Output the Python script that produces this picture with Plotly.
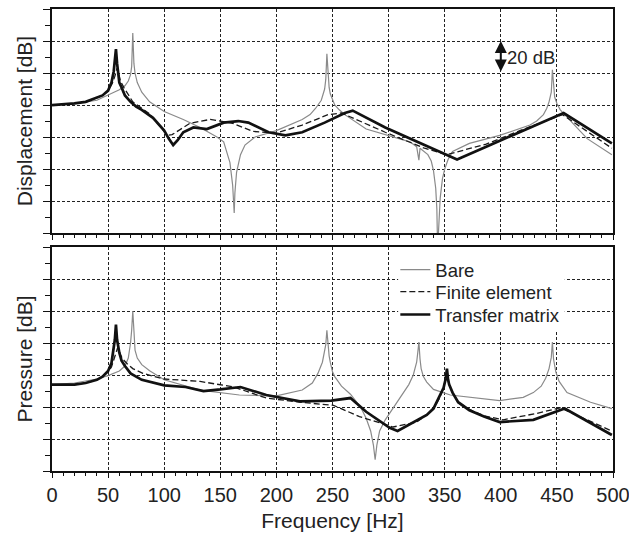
import plotly.graph_objects as go

# ---------------- data ----------------
# Displacement panel [dB, arbitrary offset; 20 dB per grid]
f_disp_bare = [0, 20, 40, 50, 60, 65, 68, 70, 71, 72, 73, 74, 76, 80, 87, 100, 117, 132, 147, 153,
               158.6, 161, 162.4, 163, 164.5, 168, 172, 181, 200, 223, 230, 235, 240, 243, 244, 245,
               246, 247, 248, 250, 252, 256, 261, 280, 300, 319, 325, 327, 328, 335, 338, 340, 342,
               343, 343.7, 345, 346, 348, 350, 353, 357, 372, 399, 426, 432, 438, 441, 443, 445,
               446, 447, 448, 450, 453, 477, 499]
disp_bare = [80, 80.8, 83, 86, 89.5, 92, 95, 99, 104, 125, 106, 100, 94, 88, 82, 76, 71, 66, 60, 57,
             44, 30, 12.5, 25, 38, 49, 55, 60, 64, 71, 74, 78, 83, 90, 96, 112,
             97, 91, 87, 83, 80, 77, 74, 65, 61, 57, 54, 45.6, 53, 49, 45, 39, 28,
             15, -10, 8, 22, 34, 40, 46, 51, 56, 61, 67.5, 70, 74, 78, 82, 88,
             102, 90, 85, 81, 77, 59, 49]

f_disp_fe = [0, 20, 30, 40, 45, 50, 54, 56, 58, 59, 61, 64, 72, 87, 100, 103, 107, 117, 123, 141,
             161, 179, 200, 223, 246, 258, 297, 332, 352, 387, 417, 455, 499]
disp_fe = [80, 81, 82, 84.4, 86, 89, 94, 98, 103, 101, 95, 91, 82, 74.5, 64, 61, 61.5, 66, 68.6, 71,
           68.6, 63.5, 62.5, 67.5, 74, 75, 63, 53, 49, 55.6, 64, 74, 53]

f_disp_tm = [0, 20, 30, 40, 45, 50, 53, 55, 56, 57, 58, 59, 60, 62, 65, 70, 75, 80, 90, 100, 104,
             108, 112, 117, 126, 138, 153, 166, 175, 193, 208, 223, 243, 261, 268, 297, 332, 361,
             387, 417, 447, 456, 499]
disp_tm = [80, 81, 82, 84.4, 86, 89, 94, 101, 107, 115, 106, 100, 94, 91, 86, 82, 79, 77, 72, 64, 59,
           55, 58, 63, 66, 65, 69, 70, 69, 63, 61, 63, 69, 75, 76.5, 66, 55, 46,
           54, 63, 72, 75, 56]

# Pressure panel [dB, arbitrary offset; 20 dB per grid]
f_pres_bare = [0, 20, 40, 50, 60, 65, 68, 70, 71, 72, 73, 74, 76, 80, 87, 100, 132, 167, 200, 223,
               232, 237, 241, 243, 244, 245, 246, 247, 248, 250, 252, 258, 266, 275, 280, 284, 286.5,
               288, 289.5, 292, 297, 310, 318, 322, 325, 326, 327, 328, 329, 331, 334, 340, 355,
               399, 420, 429, 436, 440, 443, 445, 446, 447, 449, 452, 459, 480, 499]
pres_bare = [54, 55, 57.5, 59.6, 62.5, 65.6, 70.6, 80, 88, 100, 88, 75.6, 70.6, 66.5, 62.7, 57, 50.6,
             47.5, 47, 50.6, 55, 61, 68, 74, 79, 88, 78, 72, 68, 62, 59, 53, 48, 40, 33, 25, 16,
             7, 16, 25, 32, 45.6, 54, 60, 68, 74, 80.6, 70, 64, 59, 55.6, 51, 47.5,
             44, 46, 49, 53, 58, 64, 71, 80.6, 70, 62, 56, 49, 43, 39]

f_pres_fe = [0, 20, 30, 40, 45, 50, 53, 55, 57, 58.5, 60, 63, 67, 72, 81, 100, 132, 162, 191, 221,
             251, 274, 288, 304, 325, 334, 340, 345, 348, 350, 351, 352, 353, 354, 357, 362, 372,
             385, 402, 432, 453, 499]
pres_fe = [54, 54, 55, 57, 59, 62, 65, 69, 74, 77, 74, 70, 67, 64, 61, 57.5, 56, 52.5, 45.6, 43,
           41, 34, 31, 27.5, 30.6, 35, 39, 45, 50, 55, 58, 63, 57, 54, 49, 43, 38.5,
           34.5, 32, 36, 39.5, 25]

f_pres_tm = [0, 20, 30, 40, 45, 50, 53, 55, 56, 57, 58, 60, 62, 65, 70, 80, 100, 119, 135, 150, 168,
             191, 221, 249, 266, 280, 301, 308, 334, 340, 346, 349, 351, 352, 353, 354, 357, 362,
             372, 385, 399, 429, 457, 499]
pres_tm = [54, 54, 55, 57, 59, 62.5, 67.5, 75.6, 82, 91.5, 82, 74, 69, 65.6, 61, 57, 53.5, 52.5, 50,
           51, 52.5, 47.5, 43.5, 44, 45.6, 37, 27, 25, 35, 39, 47.5, 52, 58, 64, 57, 54, 49, 43,
           38, 34, 30.6, 32, 39, 22.5]

series_names = ["Bare", "Finite element", "Transfer matrix"]
x_ticks = [0, 50, 100, 150, 200, 250, 300, 350, 400, 450, 500]

# ---------------- figure ----------------
FONT = "Liberation Sans, Arial, Helvetica, sans-serif"
GRAY = "#8a8a8a"
styles = {
    "Bare": dict(color=GRAY, width=1.2),
    "Finite element": dict(color="#1a1a1a", width=1.3, dash="6px,3px"),
    "Transfer matrix": dict(color="#111111", width=2.7),
}
legend_ids = {"Bare": "legend", "Finite element": "legend2", "Transfer matrix": "legend3"}

fig = go.Figure()
top = [(f_disp_bare, disp_bare), (f_disp_fe, disp_fe), (f_disp_tm, disp_tm)]
bot = [(f_pres_bare, pres_bare), (f_pres_fe, pres_fe), (f_pres_tm, pres_tm)]
for name, (fx, fy) in zip(series_names, top):
    fig.add_trace(go.Scatter(x=fx, y=fy, mode="lines", name=name, line=styles[name],
                             xaxis="x", yaxis="y", showlegend=False, hoverinfo="skip"))
for name, (fx, fy) in zip(series_names, bot):
    fig.add_trace(go.Scatter(x=fx, y=fy, mode="lines", name=name, line=styles[name],
                             xaxis="x2", yaxis="y2", showlegend=True, legend=legend_ids[name],
                             hoverinfo="skip"))

grid = dict(showgrid=True, gridcolor="#222222", gridwidth=1, griddash="3px,2px", zeroline=False,
            showline=True, linecolor="#111111", linewidth=1.5, mirror=True, ticks="outside",
            tickcolor="#111111", automargin=False)
xcommon = dict(grid, range=[0, 500], tickvals=x_ticks, ticklen=5, tickwidth=1,
               tickfont=dict(size=20), ticklabeloverflow="allow",
               minor=dict(dtick=10, tick0=0, ticks="outside", ticklen=3, tickcolor="#111111",
                          showgrid=False))
ycommon = dict(grid, dtick=20, tick0=0, showticklabels=False, ticklen=7, tickwidth=1,
               minor=dict(dtick=10, tick0=0, ticks="outside", ticklen=5, tickcolor="#111111",
                          showgrid=False))

leg = dict(xanchor="left", yanchor="middle", bgcolor="rgba(0,0,0,0)", borderwidth=0,
           font=dict(size=18.5, color="#222222"), itemwidth=30)

fig.update_layout(
    width=629, height=540,
    margin=dict(l=52, r=16, t=9, b=69),
    paper_bgcolor="white", plot_bgcolor="white",
    font=dict(family=FONT, size=20, color="#222222"),
    xaxis=dict(xcommon, domain=[0, 1], anchor="y", showticklabels=False),
    yaxis=dict(ycommon, domain=[0.515, 1], anchor="x", range=[0, 140],
               title=dict(text="Displacement [dB]", standoff=5, font=dict(size=21))),
    xaxis2=dict(xcommon, domain=[0, 1], anchor="y2", showticklabels=True,
                title=dict(text="Frequency [Hz]", standoff=9, font=dict(size=21))),
    yaxis2=dict(ycommon, domain=[0, 0.4848], anchor="x2", range=[0, 140],
                title=dict(text="Pressure [dB]", standoff=5, font=dict(size=21))),
    legend=dict(leg, x=0.612, y=0.435),
    legend2=dict(leg, x=0.612, y=0.3874),
    legend3=dict(leg, x=0.612, y=0.3377),
    showlegend=True,
)

# white panel behind the legend (hides the grid there, like the original)
fig.add_shape(type="rect", xref="x2", yref="y2", x0=308.5, x1=457, y0=88, y1=140,
              fillcolor="white", line=dict(width=0), layer="between")

# 20 dB scale arrow
fig.add_annotation(x=400, y=120, ax=400, ay=100, xref="x", yref="y", axref="x", ayref="y",
                   text="", showarrow=True, arrowhead=2, startarrowhead=2, arrowside="end+start",
                   arrowsize=1.2, arrowwidth=2, arrowcolor="#111111")
fig.add_annotation(x=404, y=110, xref="x", yref="y", text="20 dB", showarrow=False,
                   xanchor="left", yanchor="middle", font=dict(size=18.5, color="#222222"))

fig.write_html("out.html")
